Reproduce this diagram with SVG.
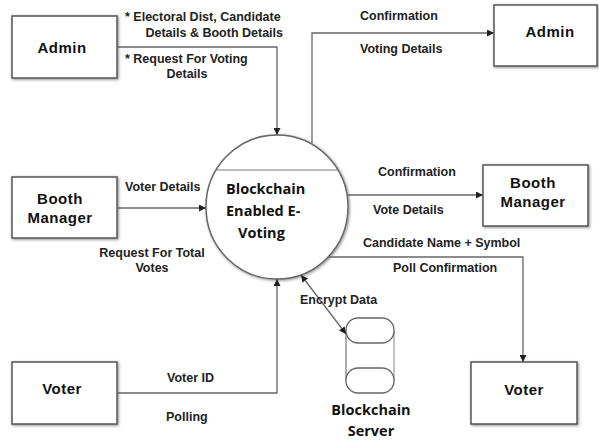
<svg xmlns="http://www.w3.org/2000/svg" width="599" height="442" viewBox="0 0 599 442">
  <defs>
    <filter id="shadow" x="-20%" y="-20%" width="140%" height="140%">
      <feDropShadow dx="1" dy="1" stdDeviation="1.5" flood-color="#000" flood-opacity="0.45"/>
    </filter>
    <marker id="arrow" viewBox="0 0 10 10" refX="10" refY="5" markerWidth="7" markerHeight="7" markerUnits="userSpaceOnUse" orient="auto-start-reverse">
      <path d="M0,0 L10,5 L0,10 Z" fill="#222"/>
    </marker>
    <style>
      .box { fill: #fff; stroke: #555; stroke-width: 1.5; filter: url(#shadow); }
      .entity { font-family: "Liberation Sans", Arial, sans-serif; font-weight: bold; font-size: 15px; fill: #111; text-anchor: middle; letter-spacing: 0.5px; }
      .process { font-family: "Open Sans", "Noto Sans", sans-serif; font-weight: bold; font-size: 14.5px; fill: #111; }
      .store { font-family: "Open Sans", "Noto Sans", sans-serif; font-weight: bold; font-size: 14.5px; fill: #111; text-anchor: middle; }
      .flow { fill: none; stroke: #666; stroke-width: 1.3; }
      .label { font-family: "Liberation Sans", Arial, sans-serif; font-weight: bold; font-size: 12.5px; fill: #222; }
    </style>
  </defs>

  <rect width="599" height="442" fill="#fff"/>

  <!-- central process -->
  <g id="process-evoting">
    <ellipse cx="277" cy="207" rx="71" ry="72" fill="#fff" stroke="#666" stroke-width="1.5" filter="url(#shadow)"/>
    <line x1="216" y1="170" x2="338" y2="170" stroke="#777" stroke-width="1.2"/>
    <text class="process" x="226" y="194">Blockchain</text>
    <text class="process" x="226" y="216">Enabled E-</text>
    <text class="process" x="238" y="238">Voting</text>
  </g>

  <!-- external entities -->
  <g id="admin-source">
    <rect class="box" x="12" y="16" width="105" height="62"/>
    <text class="entity" x="62" y="53">Admin</text>
  </g>
  <g id="admin-sink">
    <rect class="box" x="494" y="5" width="103" height="61"/>
    <text class="entity" x="550" y="37">Admin</text>
  </g>
  <g id="booth-manager-source">
    <rect class="box" x="12" y="177" width="105" height="61"/>
    <text class="entity" x="60" y="204">Booth</text>
    <text class="entity" x="60" y="223">Manager</text>
  </g>
  <g id="booth-manager-sink">
    <rect class="box" x="483" y="165" width="105" height="61"/>
    <text class="entity" x="533" y="188">Booth</text>
    <text class="entity" x="533" y="207">Manager</text>
  </g>
  <g id="voter-source">
    <rect class="box" x="12" y="362" width="105" height="62"/>
    <text class="entity" x="62" y="394">Voter</text>
  </g>
  <g id="voter-sink">
    <rect class="box" x="471" y="362" width="106" height="62"/>
    <text class="entity" x="524" y="395">Voter</text>
  </g>

  <!-- data store -->
  <g id="blockchain-server">
    <line x1="346" y1="330" x2="346" y2="381" stroke="#777" stroke-width="1.2"/>
    <line x1="394" y1="330" x2="394" y2="381" stroke="#999" stroke-width="1.2"/>
    <rect x="346" y="318" width="48" height="25" rx="12" fill="#fff" stroke="#666" stroke-width="1.3"/>
    <rect x="346" y="368" width="48" height="25" rx="12" fill="#fff" stroke="#666" stroke-width="1.3"/>
    <text class="store" x="371" y="415">Blockchain</text>
    <text class="store" x="371" y="436">Server</text>
  </g>

  <!-- data flows -->
  <g id="connectors">
    <path class="flow" d="M117,47 H277 V135" marker-end="url(#arrow)"/>
    <path class="flow" d="M312,143 V33 H494" marker-end="url(#arrow)"/>
    <path class="flow" d="M117,208 H206" marker-end="url(#arrow)"/>
    <path class="flow" d="M347,195 H483" marker-end="url(#arrow)"/>
    <path class="flow" d="M328,257 H523 V362" marker-end="url(#arrow)"/>
    <path class="flow" d="M117,393 H277 V279" marker-end="url(#arrow)"/>
    <path class="flow" d="M301,275 L346,334" marker-start="url(#arrow)" marker-end="url(#arrow)"/>

    <text class="label" x="125" y="21">* Electoral Dist, Candidate</text>
    <text class="label" x="283" y="37" text-anchor="end">Details &amp; Booth Details</text>
    <text class="label" x="125" y="63">* Request For Voting</text>
    <text class="label" x="187" y="78" text-anchor="middle">Details</text>

    <text class="label" x="360" y="20">Confirmation</text>
    <text class="label" x="360" y="53">Voting Details</text>

    <text class="label" x="125" y="191">Voter Details</text>
    <text class="label" x="152" y="257" text-anchor="middle">Request For Total</text>
    <text class="label" x="152" y="272" text-anchor="middle">Votes</text>

    <text class="label" x="378" y="176">Confirmation</text>
    <text class="label" x="373" y="214">Vote Details</text>
    <text class="label" x="363" y="247">Candidate Name + Symbol</text>
    <text class="label" x="393" y="272">Poll Confirmation</text>

    <text class="label" x="300" y="304">Encrypt Data</text>

    <text class="label" x="167" y="382">Voter ID</text>
    <text class="label" x="166" y="421">Polling</text>
  </g>
</svg>
